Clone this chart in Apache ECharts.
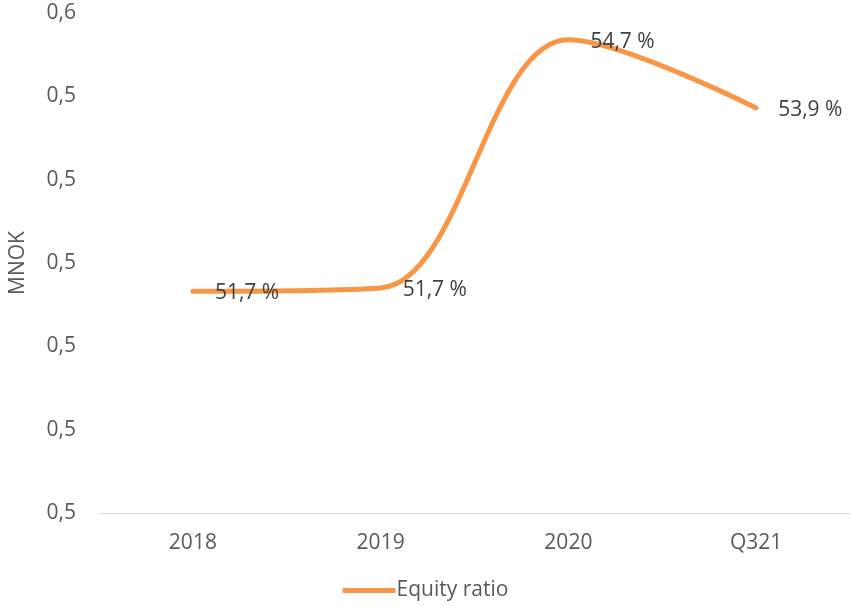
<!DOCTYPE html>
<html>
<head>
<meta charset="utf-8">
<script src="https://cdn.jsdelivr.net/npm/echarts@6/dist/echarts.min.js"></script>
<style>html,body{margin:0;padding:0;background:#fff}#c{width:851px;height:606px}</style>
</head>
<body>
<div id="c"></div>
<script>
const categories = ['2018', '2019', '2020', 'Q321'];
const equityRatio = [0.5166, 0.5170, 0.5468, 0.5386];
const seriesName = 'Equity ratio';
const yAxisName = 'MNOK';

const chart = echarts.init(document.getElementById('c'), null, {renderer: 'canvas'});
const font = '"Open Sans", sans-serif';
chart.setOption({
  animation: false,
  grid: {left: 97, right: 1, top: 13, bottom: 93},
  legend: {
    data: [seriesName],
    bottom: 0,
    left: 'center',
    icon: 'roundRect',
    itemWidth: 53,
    itemHeight: 5,
    itemStyle: {color: '#F79646'},
    textStyle: {color: '#595959', fontSize: 21, fontFamily: font, padding: [0,0,0,-4]}
  },
  xAxis: {
    type: 'category',
    data: categories,
    boundaryGap: true,
    axisLine: {lineStyle: {color: '#d9d9d9', width: 1}},
    axisTick: {show: false},
    axisLabel: {color: '#595959', fontSize: 21, fontFamily: font, margin: 20}
  },
  yAxis: {
    type: 'value',
    min: 0.49,
    max: 0.55,
    interval: 0.01,
    name: yAxisName,
    nameLocation: 'middle',
    nameGap: 70,
    nameTextStyle: {color: '#595959', fontSize: 21, fontFamily: font},
    axisLine: {show: false},
    axisTick: {show: false},
    splitLine: {show: false},
    axisLabel: {
      color: '#595959', fontSize: 21, fontFamily: font, margin: 23,
      formatter: v => (Math.round(v * 10 + 1e-9) / 10).toFixed(1).replace('.', ',')
    }
  },
  series: [{
    name: seriesName,
    type: 'line',
    data: equityRatio,
    smooth: 0.35,
    symbol: 'circle',
    symbolSize: 0.1,
    showSymbol: true,
    lineStyle: {color: '#F79646', width: 5, cap: 'round'},
    itemStyle: {color: '#F79646'},
    label: {
      show: true,
      position: 'right',
      distance: 22,
      offset: [0, 2],
      color: '#404040',
      fontSize: 21,
      fontFamily: font,
      formatter: p => (p.value * 100).toFixed(1).replace('.', ',') + ' %'
    }
  }]
});
</script>
</body>
</html>
